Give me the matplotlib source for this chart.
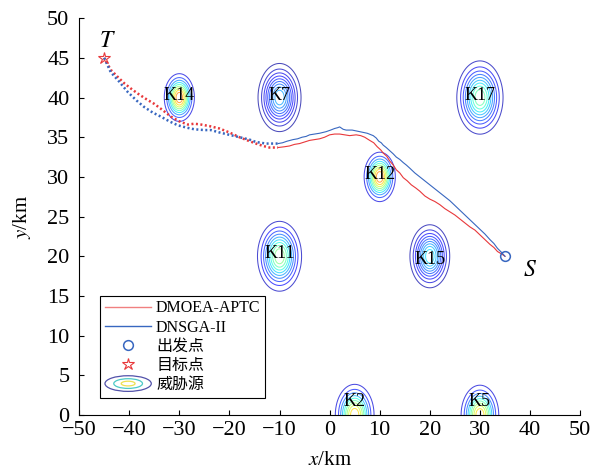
import numpy as np
import matplotlib
matplotlib.use("Agg")
import matplotlib.pyplot as plt
from matplotlib.colors import Normalize
from matplotlib.legend_handler import HandlerBase
from matplotlib.lines import Line2D
from matplotlib.patches import Ellipse

plt.rcParams['font.family'] = ['Liberation Serif', 'Noto Sans CJK SC']
plt.rcParams['mathtext.fontset'] = 'stix'
plt.rcParams['axes.unicode_minus'] = True

# threat sources: name, centre, spread (sigma, km), peak intensity
threat_names = ['K14', 'K7', 'K17', 'K12', 'K11', 'K15', 'K2', 'K5']
threat_x = [-30, -10, 30, 10, -10, 20, 5, 30]
threat_y = [40, 40, 40, 30, 20, 20, 0, 0]
threat_sigma = [1.40, 2.00, 2.15, 1.45, 2.05, 1.85, 1.80, 1.75]
threat_peak = [0.85, 0.31, 0.50, 0.85, 0.55, 0.38, 0.75, 0.75]

# planned path of DMOEA-APTC (dotted part first, then solid part)
red_dot_x = [-45, -43.7, -42.3, -41, -39.6, -38.3, -36.6, -35, -33.3, -31.7, -30, -28.3,
             -27, -25.7, -24, -22, -20, -18, -16, -14.7, -13.3, -12, -10.3]
red_dot_y = [45, 43.5, 42.6, 41.8, 41.1, 40.5, 39.8, 39.2, 38.4, 37.6, 37.0, 36.6,
             36.7, 36.6, 36.4, 36.1, 35.6, 35.0, 34.5, 34.2, 33.9, 33.7, 33.7]
red_x = [-10.3, -9, -8, -7, -6, -5, -4, -3, -2, -1, 0, 1, 2, 3, 4, 5.3, 6.2, 7, 8, 8.8,
         9.5, 10.2, 10.7, 11.4, 12, 12.7, 13.3, 14, 14.7, 15.5, 16.3, 17.2, 18, 19, 20,
         21, 22, 23, 24, 25, 26, 27, 28, 29, 30, 31, 32, 32.8, 33.5, 34.3, 35]
red_y = [33.7, 33.8, 33.9, 34.1, 34.2, 34.4, 34.6, 34.7, 34.8, 35.0, 35.3, 35.4, 35.4,
         35.3, 35.2, 35.3, 35.2, 35.0, 34.6, 34.3, 33.8, 33.4, 33.0, 32.6, 32.0, 31.5,
         30.9, 30.5, 29.9, 29.5, 29.0, 28.6, 28.2, 27.6, 27.2, 26.9, 26.5, 26.0, 25.6,
         25.2, 24.7, 24.2, 23.7, 23.3, 22.7, 22.1, 21.5, 21.1, 20.6, 20.3, 20]

# planned path of DNSGA-II
blue_dot_x = [-45, -43.7, -42, -40.3, -38.5, -37, -35.3, -33.7, -32, -30.3, -28.5, -27,
              -25, -23.7, -22, -20, -18, -16, -14.7, -12.7, -10.3]
blue_dot_y = [45, 43.2, 42.0, 40.7, 39.6, 38.8, 38.1, 37.6, 37.0, 36.5, 36.2, 36.0,
              35.9, 35.9, 35.6, 35.3, 35.0, 34.7, 34.4, 34.2, 34.2]
blue_x = [-10.3, -9.4, -8.5, -7.3, -6.4, -5.5, -4.7, -4, -3, -2, -0.7, 0.2, 1, 1.6, 2,
          2.7, 3.3, 4.5, 6, 7.5, 8.7, 9.3, 9.8, 10.3, 10.7, 11.3, 12, 12.7, 13.3, 14,
          14.7, 15.3, 16, 17, 18, 19, 20, 21, 22, 23, 24, 25, 26, 27, 28, 29, 30, 31,
          32, 32.8, 33.5, 34.3, 35]
blue_y = [34.2, 34.3, 34.5, 34.7, 34.8, 35.0, 35.1, 35.3, 35.4, 35.5, 35.7, 35.9, 36.1,
          36.2, 36.3, 36.0, 35.9, 35.9, 35.7, 35.5, 35.2, 34.9, 34.5, 34.3, 34.0, 33.7,
          33.3, 32.9, 32.5, 32.2, 31.8, 31.5, 31.1, 30.5, 30.0, 29.5, 29.0, 28.5, 28.0,
          27.5, 27.0, 26.4, 25.8, 25.2, 24.6, 24.0, 23.4, 22.8, 22.1, 21.6, 21.0, 20.5, 20]

start_pt = (35, 20)
target_pt = (-45, 45)

red = '#e8383b'
blue = '#3867c0'


class ThreatKey:
    pass


class HandlerThreat(HandlerBase):
    # concentric ellipses as legend key for the threat contours
    def create_artists(self, legend, orig_handle, xdescent, ydescent,
                       width, height, fontsize, trans):
        cx = width / 2 - xdescent
        cy = height / 2 - ydescent
        arts = []
        for s, c in zip([1.0, 0.62, 0.3], ['#5252aa', '#4ccac6', '#eee050']):
            e = Ellipse((cx, cy), width * s, height * 1.4 * s, fill=False,
                        edgecolor=c, lw=0.9, transform=trans)
            arts.append(e)
        return arts


fig = plt.figure(figsize=(5.95, 4.73), dpi=100)
ax = fig.add_axes([0.133, 0.1226, 0.842, 0.839])

# contour rings of each threat source, coloured on a shared scale
norm = Normalize(vmin=0, vmax=1)
for name, cx, cy, sg, pk in zip(threat_names, threat_x, threat_y, threat_sigma, threat_peak):
    gx = np.linspace(cx - 6, cx + 6, 241)
    gy = np.linspace(cy - 6, cy + 6, 241)
    X, Y = np.meshgrid(gx, gy)
    Z = pk * np.exp(-((X - cx) ** 2 + (Y - cy) ** 2) / (2 * sg ** 2))
    levels = pk * np.linspace(0.1, 0.9, 9)
    ax.contour(X, Y, Z, levels=levels, cmap='jet', norm=norm, linewidths=0.75, alpha=0.7)
    ty = cy + 1.7 if cy == 0 else cy + 0.3
    if name == 'K15':
        ty = cy - 0.4
    ax.text(cx, ty, name, ha='center', va='center', fontsize=13)

ax.plot(red_dot_x, red_dot_y, color=red, lw=1.8, linestyle=(0, (0.8, 1.0)))
ax.plot(blue_dot_x, blue_dot_y, color=blue, lw=1.8, linestyle=(0, (0.8, 1.0)))
ax.plot(red_x, red_y, color=red, lw=0.8)
ax.plot(blue_x, blue_y, color=blue, lw=0.8)
ax.plot(*start_pt, 'o', mfc='none', mec=blue, ms=7, mew=1.1)
ax.plot(*target_pt, '*', mfc='none', mec=red, ms=9, mew=0.8)

ax.text(-44.3, 47.0, '$T$', fontsize=17, ha='center', va='center')
ax.text(40.0, 18.2, '$S$', fontsize=17, ha='center', va='center')

ax.set_xlim(-50, 50)
ax.set_ylim(0, 50)
ax.set_xticks(np.arange(-50, 51, 10))
ax.set_yticks(np.arange(0, 51, 5))
ax.tick_params(direction='in', length=3.5, width=0.8, labelsize=16)
ax.tick_params(axis='x', pad=4)
ax.tick_params(axis='y', pad=7)
for side in ['top', 'right']:
    ax.spines[side].set_visible(False)
for side in ['left', 'bottom']:
    ax.spines[side].set_linewidth(0.8)
ax.set_xlabel('$x$/km', fontsize=15, labelpad=8)
ax.set_ylabel('$y$/km', fontsize=15, labelpad=10)

handles = [
    Line2D([], [], color='#f08080', lw=1.0),
    Line2D([], [], color=blue, lw=1.0),
    Line2D([], [], ls='none', marker='o', mfc='none', mec=blue, ms=7, mew=1.1),
    Line2D([], [], ls='none', marker='*', mfc='none', mec=red, ms=9, mew=0.8),
    ThreatKey(),
]
labels = ['DMOEA-APTC', 'DNSGA-II', '出发点', '目标点', '威胁源']
leg = ax.legend(handles, labels, loc='lower left', bbox_to_anchor=(0.042, 0.043),
                fontsize=11.5, handlelength=2.9, handletextpad=0.3, labelspacing=0.2,
                borderpad=0.3, borderaxespad=0, fancybox=False, framealpha=1,
                handler_map={ThreatKey: HandlerThreat()})
leg.get_frame().set_edgecolor('black')
leg.get_frame().set_linewidth(0.8)

fig.savefig('out.png', dpi=100)
